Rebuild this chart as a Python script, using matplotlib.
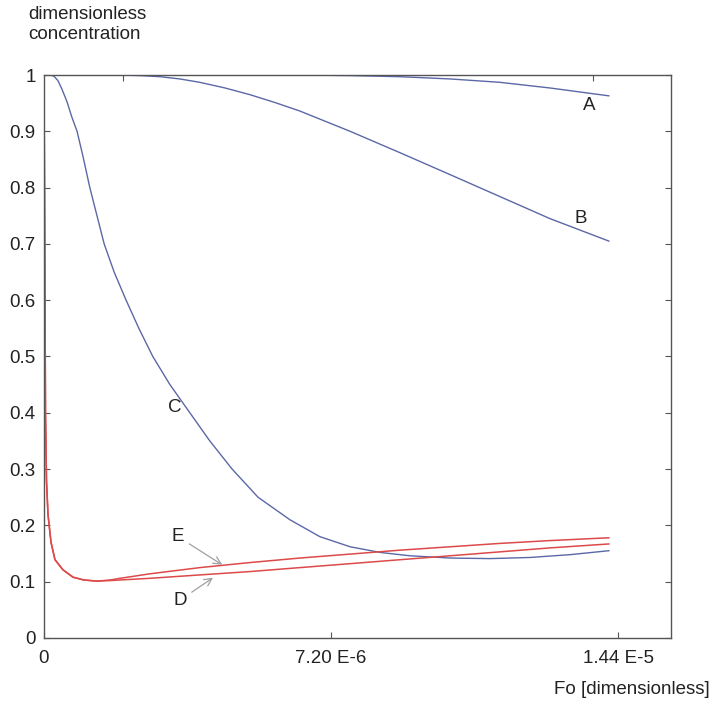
import matplotlib
matplotlib.use("Agg")
import matplotlib.pyplot as plt

plt.rcParams['font.family'] = ['Liberation Sans', 'DejaVu Sans']

# Fo values in units of 1e-6, concentrations
fo_a = [0, 6.42, 7.68, 8.93, 10.19, 11.44, 12.69, 14.17]
c_a = [1.0, 1.0, 0.999, 0.997, 0.993, 0.987, 0.977, 0.963]

fo_b = [0, 1.91, 2.41, 2.91, 3.41, 3.91, 4.54, 5.17, 5.80, 6.42, 7.05, 7.68,
        8.93, 10.19, 11.44, 12.69, 14.17]
c_b = [1.0, 1.0, 0.999, 0.997, 0.993, 0.987, 0.977, 0.965, 0.951, 0.936, 0.918, 0.9,
       0.862, 0.823, 0.784, 0.745, 0.705]

fo_c = [0, 0.15, 0.25, 0.35, 0.45, 0.58, 0.70, 0.83, 0.98, 1.15,
        1.33, 1.51, 1.76, 2.06, 2.38, 2.73, 3.16, 3.66, 4.16, 4.72,
        5.37, 6.17, 6.92, 7.68, 8.43, 9.18, 10.19, 11.19, 12.19, 13.20,
        14.17]
c_c = [1.0, 1.0, 0.998, 0.99, 0.975, 0.952, 0.925, 0.9, 0.855, 0.8,
       0.75, 0.7, 0.65, 0.6, 0.55, 0.5, 0.45, 0.4, 0.35, 0.3,
       0.25, 0.21, 0.18, 0.162, 0.152, 0.146, 0.142, 0.141, 0.143, 0.148,
       0.155]

# red curves share the fast initial drop
fo_red0 = [0, 0.020, 0.038, 0.063, 0.100, 0.176, 0.276, 0.477, 0.728, 1.00, 1.33]
c_red0 = [1.0, 0.7, 0.4, 0.28, 0.22, 0.17, 0.139, 0.121, 0.108, 0.103, 0.101]

fo_tail = [1.66, 1.91, 2.66, 3.91, 5.17, 6.42, 7.68, 8.93, 10.19, 11.44, 12.69, 14.17]
c_e = [0.103, 0.106, 0.114, 0.125, 0.134, 0.142, 0.149, 0.156, 0.162, 0.168, 0.173, 0.178]
c_d = [0.102, 0.103, 0.106, 0.112, 0.118, 0.125, 0.132, 0.139, 0.146, 0.153, 0.160, 0.167]

xticks = [0, 7.2, 14.4]
xticklabels = ["0", "7.20 E-6", "1.44 E-5"]
yticks = [0, 0.1, 0.2, 0.3, 0.4, 0.5, 0.6, 0.7, 0.8, 0.9, 1.0]
yticklabels = ["0", "0.1", "0.2", "0.3", "0.4", "0.5", "0.6", "0.7", "0.8", "0.9", "1"]
top_ticks = [1.98, 13.77]

blue = "#5b68a6"
red = "#dc4a4a"
fs = 13.5

fig = plt.figure(figsize=(7.14, 7.11), dpi=100)
ax = fig.add_axes([0.0616, 0.1027, 0.8782, 0.7918])

ax.plot(fo_a, c_a, color=blue, lw=1.0)
ax.plot(fo_b, c_b, color=blue, lw=1.0)
ax.plot(fo_c, c_c, color=blue, lw=1.0)
ax.plot(fo_red0 + fo_tail, c_red0 + c_e, color=red, lw=1.1)
ax.plot(fo_red0 + fo_tail, c_red0 + c_d, color=red, lw=1.1)

ax.set_xlim(0, 15.73)
ax.set_ylim(0, 1)

ax.set_xticks(xticks)
ax.set_xticklabels(xticklabels)
ax.set_yticks(yticks)
ax.set_yticklabels(yticklabels)
ax.tick_params(direction='in', length=4, width=0.8, colors='#555555',
               labelcolor='#222222', labelsize=fs, right=True, pad=6)
ax.tick_params(axis='x', pad=9)

sec = ax.secondary_xaxis('top')
sec.set_xticks(top_ticks)
sec.set_xticklabels([])
sec.tick_params(direction='in', length=4, width=0.8, colors='#555555')
sec.spines['top'].set_visible(False)

for s in ax.spines.values():
    s.set_color('#555555')
    s.set_linewidth(1.0)

txt = dict(fontsize=fs, color='#222222', ha='center', va='center')
ax.text(13.67, 0.945, "A", **txt)
ax.text(13.47, 0.746, "B", **txt)
ax.text(3.29, 0.41, "C", **txt)

arrow = dict(arrowstyle='->', color='#a0a0a0', lw=0.9, shrinkA=2, shrinkB=0)
ax.annotate("E", xy=(4.47, 0.130), xytext=(3.36, 0.18), arrowprops=arrow, **txt)
ax.annotate("D", xy=(4.24, 0.107), xytext=(3.41, 0.067), arrowprops=arrow, **txt)

fig.text(28 / 714, 1 - 6 / 711, "dimensionless\nconcentration", fontsize=fs,
         color='#222222', ha='left', va='top', linespacing=1.25)
fig.text(710 / 714, 1 - 690 / 711, "Fo [dimensionless]", fontsize=fs,
         color='#222222', ha='right', va='center')

fig.savefig("out.png", dpi=100)
